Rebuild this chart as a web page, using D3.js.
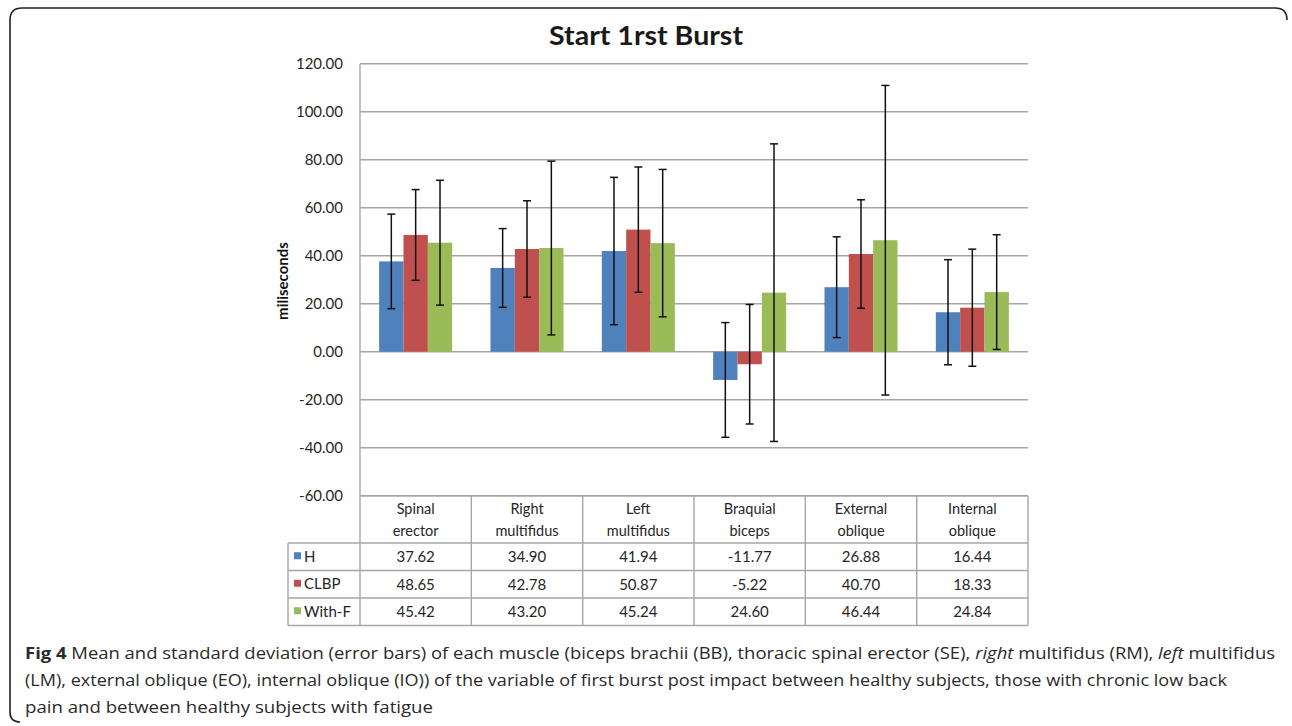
<!DOCTYPE html>
<html>
<head>
<meta charset="utf-8">
<script src="https://cdn.jsdelivr.net/npm/d3@7/dist/d3.min.js"></script>
<style>
  html, body { margin: 0; padding: 0; background: #fff; }
  svg { display: block; }
</style>
</head>
<body>
<svg id="chart" width="1292" height="726"></svg>
<script>
// ---------- data ----------
const categories = [["Spinal","erector"],["Right","multifidus"],["Left","multifidus"],["Braquial","biceps"],["External","oblique"],["Internal","oblique"]];
const seriesNames = ["H","CLBP","With-F"];
const valuesH    = [37.62, 34.90, 41.94, -11.77, 26.88, 16.44];
const valuesCLBP = [48.65, 42.78, 50.87, -5.22, 40.70, 18.33];
const valuesWF   = [45.42, 43.20, 45.24, 24.60, 46.44, 24.84];
const sdH    = [19.7, 16.4, 30.7, 23.9, 21.0, 21.9];
const sdCLBP = [18.9, 20.1, 26.1, 24.9, 22.6, 24.4];
const sdWF   = [26.0, 36.2, 30.7, 62.0, 64.5, 23.9];
const yTicks = [-60, -40, -20, 0, 20, 40, 60, 80, 100, 120];
const colors = ["#4F81BD", "#C0504D", "#9BBB59"];
const titleText = "Start 1rst Burst";
const yLabel = "miliseconds";

const series = [
  {name: seriesNames[0], values: valuesH, sd: sdH, color: colors[0]},
  {name: seriesNames[1], values: valuesCLBP, sd: sdCLBP, color: colors[1]},
  {name: seriesNames[2], values: valuesWF, sd: sdWF, color: colors[2]}
];

const fmt = v => d3.format(".2f")(v).replace("\u2212", "-");

// ---------- layout ----------
const svg = d3.select("#chart");
const plotL = 360, plotR = 1028, plotT = 63.7, plotB = 495.7;
const font = "Lato, 'Open Sans', sans-serif";

// frame
svg.append("path")
  .attr("d", "M10,712 L10,20 Q10,8 22,8 L1275,8 Q1287,8 1287,20")
  .attr("fill", "none").attr("stroke", "#222").attr("stroke-width", 1.6);
svg.append("path")
  .attr("d", "M10,712 Q10,722 20,722")
  .attr("fill", "none").attr("stroke", "#222").attr("stroke-width", 1.6);

const y = d3.scaleLinear().domain([-60, 120]).range([plotB, plotT]);
const x = d3.scaleBand().domain(d3.range(categories.length)).range([plotL, plotR]).padding(0);
const catW = x.bandwidth();
const groupW = catW * 0.656;
const xs = d3.scaleBand().domain(d3.range(series.length)).range([(catW - groupW) / 2, (catW + groupW) / 2]).padding(0);

// title
svg.append("text").attr("x", 549).attr("y", 45)
  .attr("textLength", 194).attr("lengthAdjust", "spacingAndGlyphs")
  .attr("font-family", font).attr("font-weight", "bold").attr("font-size", 26.5)
  .attr("fill", "#1a1a1a").text(titleText);

// gridlines
svg.append("g").selectAll("line").data(yTicks).join("line")
  .attr("x1", plotL).attr("x2", plotR)
  .attr("y1", d => y(d)).attr("y2", d => y(d))
  .attr("stroke", "#a6a6a6").attr("stroke-width", 1.4);

// y axis labels
const yAxis = d3.axisLeft(y).tickValues(yTicks).tickFormat(fmt).tickSize(0).tickPadding(17);
const gy = svg.append("g").attr("transform", `translate(${plotL},0)`).call(yAxis);
gy.select(".domain").remove();
gy.selectAll("text").attr("font-family", font).attr("font-size", 15).attr("fill", "#262626");

// y label
svg.append("text").attr("transform", `translate(288,281) rotate(-90)`)
  .attr("text-anchor", "middle").attr("font-family", font).attr("font-weight", "bold")
  .attr("font-size", 15).attr("fill", "#111").text(yLabel);

// bars
const gBars = svg.append("g");
series.forEach((s, si) => {
  gBars.selectAll(null).data(s.values).join("rect")
    .attr("x", (d, i) => x(i) + xs(si))
    .attr("width", xs.bandwidth())
    .attr("y", d => y(Math.max(0, d)))
    .attr("height", d => Math.abs(y(d) - y(0)))
    .attr("fill", s.color);
});

// error bars
const gErr = svg.append("g").attr("stroke", "#111").attr("stroke-width", 1.5);
series.forEach((s, si) => {
  s.values.forEach((v, i) => {
    const cx = x(i) + xs(si) + xs.bandwidth() / 2;
    const hi = y(v + s.sd[i]), lo = y(v - s.sd[i]);
    gErr.append("line").attr("x1", cx).attr("x2", cx).attr("y1", hi).attr("y2", lo);
    gErr.append("line").attr("x1", cx - 4).attr("x2", cx + 4).attr("y1", hi).attr("y2", hi);
    gErr.append("line").attr("x1", cx - 4).attr("x2", cx + 4).attr("y1", lo).attr("y2", lo);
  });
});

// left axis line
svg.append("line").attr("x1", plotL).attr("x2", plotL).attr("y1", plotT).attr("y2", 625.5)
  .attr("stroke", "#a6a6a6").attr("stroke-width", 1.4);

// data table
const rowTops = [plotB, 543, 570.5, 598, 625.5];
const tableL = 288;
const gT = svg.append("g").attr("stroke", "#a6a6a6").attr("stroke-width", 1.4);
gT.append("line").attr("x1", plotL).attr("x2", plotR).attr("y1", rowTops[0]).attr("y2", rowTops[0]);
rowTops.slice(1).forEach(t => gT.append("line").attr("x1", tableL).attr("x2", plotR).attr("y1", t).attr("y2", t));
d3.range(1, categories.length + 1).forEach(i => {
  const xx = i < categories.length ? x(i) : plotR;
  gT.append("line").attr("x1", xx).attr("x2", xx).attr("y1", rowTops[0]).attr("y2", rowTops[4]);
});
gT.append("line").attr("x1", tableL).attr("x2", tableL).attr("y1", rowTops[1]).attr("y2", rowTops[4]);

// header text
categories.forEach((c, i) => {
  const t = svg.append("text").attr("x", x(i) + catW / 2).attr("text-anchor", "middle")
    .attr("font-family", font).attr("font-size", 14.5).attr("fill", "#262626");
  t.append("tspan").attr("x", x(i) + catW / 2).attr("y", 514).text(c[0]);
  t.append("tspan").attr("x", x(i) + catW / 2).attr("y", 535.5).text(c[1]);
});
// rows
series.forEach((s, si) => {
  const cy = (rowTops[si + 1] + rowTops[si + 2]) / 2;
  svg.append("rect").attr("x", 294).attr("y", cy - 4.5).attr("width", 7).attr("height", 7).attr("fill", s.color);
  svg.append("text").attr("x", 304).attr("y", cy + 5).attr("font-family", font).attr("font-size", 15)
    .attr("fill", "#262626").text(s.name);
  s.values.forEach((v, i) => {
    svg.append("text").attr("x", x(i) + catW / 2).attr("y", cy + 5.5).attr("text-anchor", "middle")
      .attr("font-family", font).attr("font-size", 15).attr("fill", "#262626").text(fmt(v));
  });
});

// caption
const capFont = "'Open Sans', sans-serif";
const cap = svg.append("g").attr("font-family", capFont).attr("font-size", 16.5).attr("fill", "#2a2a2a");
const l1 = cap.append("text").attr("x", 25).attr("y", 659).attr("textLength", 1250).attr("lengthAdjust", "spacingAndGlyphs");
l1.append("tspan").attr("font-weight", "bold").text("Fig 4");
l1.append("tspan").text(" Mean and standard deviation (error bars) of each muscle (biceps brachii (BB), thoracic spinal erector (SE), ");
l1.append("tspan").attr("font-style", "italic").text("right");
l1.append("tspan").text(" multifidus (RM), ");
l1.append("tspan").attr("font-style", "italic").text("left");
l1.append("tspan").text(" multifidus");
cap.append("text").attr("x", 25).attr("y", 686).attr("textLength", 1202).attr("lengthAdjust", "spacingAndGlyphs")
  .text("(LM), external oblique (EO), internal oblique (IO)) of the variable of first burst post impact between healthy subjects, those with chronic low back");
cap.append("text").attr("x", 25).attr("y", 713).attr("textLength", 408).attr("lengthAdjust", "spacingAndGlyphs")
  .text("pain and between healthy subjects with fatigue");
</script>
</body>
</html>
